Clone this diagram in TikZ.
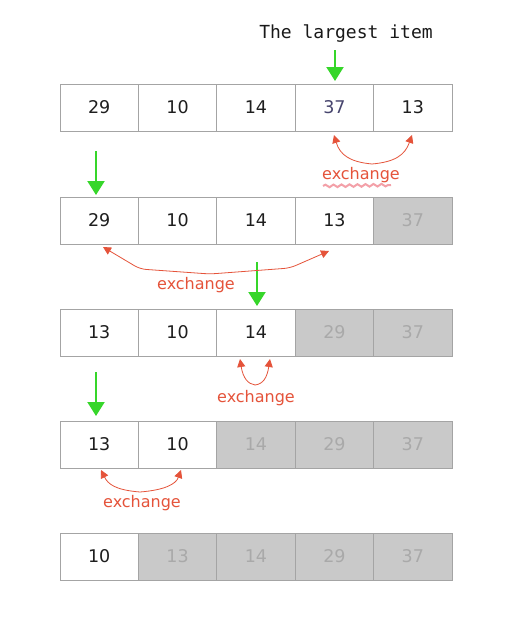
\documentclass[tikz,border=0pt]{standalone}
\usepackage{fontspec}
\setmainfont{DejaVu Sans}
\newfontfamily\monofnt{DejaVu Sans Mono}
\usetikzlibrary{arrows.meta,decorations.pathmorphing}
\definecolor{cellborder}{HTML}{A4A4A4}
\definecolor{donefill}{HTML}{C9C9C9}
\definecolor{donetext}{HTML}{A9A9A9}
\definecolor{numtext}{HTML}{1E1E1E}
\definecolor{maxtext}{HTML}{47456E}
\definecolor{xred}{HTML}{E5533A}
\definecolor{xpink}{HTML}{F3A0A8}
\definecolor{pgreen}{HTML}{36D62A}
\tikzset{
  cell/.style={draw=cellborder, line width=0.9pt, fill=white, minimum width=78.4pt, minimum height=47pt, inner sep=0pt, text=numtext, font=\fontsize{17.5}{20}\selectfont},
  donecell/.style={cell, fill=donefill, text=donetext},
  xarr/.style={draw=xred, line width=0.8pt, {Triangle[width=8pt,length=8pt]}-{Triangle[width=8pt,length=8pt]}},
  xlabel/.style={text=xred, font=\fontsize{16}{19}\selectfont},
  parr/.style={draw=pgreen, line width=2pt, -{Triangle[width=17pt,length=14pt]}},
  wavy/.style={draw=xpink, line width=2pt, decorate, decoration={snake, amplitude=1.3pt, segment length=8pt}},
}
\begin{document}
\begin{tikzpicture}[x=1pt,y=-1pt]
\useasboundingbox[fill=white] (0,0) rectangle (507,627);
% row 1
\node[cell] (c11) at (99.2,107.5) {29};
\node[cell] (c12) at (177.6,107.5) {10};
\node[cell] (c13) at (256,107.5) {14};
\node[cell, text=maxtext] (c14) at (334.4,107.5) {37};
\node[cell] (c15) at (412.8,107.5) {13};
% row 2
\node[cell] (c21) at (99.2,220.5) {29};
\node[cell] (c22) at (177.6,220.5) {10};
\node[cell] (c23) at (256,220.5) {14};
\node[cell] (c24) at (334.4,220.5) {13};
\node[donecell] (c25) at (412.8,220.5) {37};
% row 3
\node[cell] (c31) at (99.2,332.5) {13};
\node[cell] (c32) at (177.6,332.5) {10};
\node[cell] (c33) at (256,332.5) {14};
\node[donecell] (c34) at (334.4,332.5) {29};
\node[donecell] (c35) at (412.8,332.5) {37};
% row 4
\node[cell] (c41) at (99.2,444.5) {13};
\node[cell] (c42) at (177.6,444.5) {10};
\node[donecell] (c43) at (256,444.5) {14};
\node[donecell] (c44) at (334.4,444.5) {29};
\node[donecell] (c45) at (412.8,444.5) {37};
% row 5
\node[cell] (c51) at (99.2,556.5) {10};
\node[donecell] (c52) at (177.6,556.5) {13};
\node[donecell] (c53) at (256,556.5) {14};
\node[donecell] (c54) at (334.4,556.5) {29};
\node[donecell] (c55) at (412.8,556.5) {37};

% title
\node[font=\monofnt\fontsize{18}{20}\selectfont, text=black!90] (title) at (346,34) {The largest item};

% green pointers
\coordinate (g1s) at (335,50);  \coordinate (g1e) at (335,81);
\coordinate (g2s) at (96,151);  \coordinate (g2e) at (96,195);
\coordinate (g3s) at (257,262); \coordinate (g3e) at (257,306);
\coordinate (g4s) at (96,372);  \coordinate (g4e) at (96,416);
\draw[parr] (g1s) -- (g1e);
\draw[parr] (g2s) -- (g2e);
\draw[parr] (g3s) -- (g3e);
\draw[parr] (g4s) -- (g4e);

% exchange 1
\coordinate (a1) at (334,135); \coordinate (b1) at (412,135);
\draw[xarr] (a1) .. controls (340,155) and (350,162) .. (372,164) .. controls (395,162) and (405,155) .. (b1);
\node[xlabel] (x1) at (361,175) {exchange};
\coordinate (w1s) at (323,186); \coordinate (w1e) at (391,185);
\draw[wavy] (w1s) -- (w1e);

% exchange 2
\coordinate (a2) at (103,247); \coordinate (b2) at (329,251);
\draw[xarr, rounded corners=6pt] (a2) -- (140,269) -- (210,274) -- (290,268) -- (b2);
\node[xlabel] (x2) at (196,285) {exchange};

% exchange 3
\coordinate (a3) at (240,359); \coordinate (b3) at (270,359);
\draw[xarr] (a3) .. controls (243,378) and (248,384) .. (255,385) .. controls (263,384) and (267,378) .. (b3);
\node[xlabel] (x3) at (256,398) {exchange};

% exchange 4
\coordinate (a4) at (101,470); \coordinate (b4) at (181,470);
\draw[xarr] (a4) .. controls (108,484) and (115,490) .. (140,492) .. controls (165,490) and (176,484) .. (b4);
\node[xlabel] (x4) at (142,503) {exchange};
\end{tikzpicture}
\end{document}
